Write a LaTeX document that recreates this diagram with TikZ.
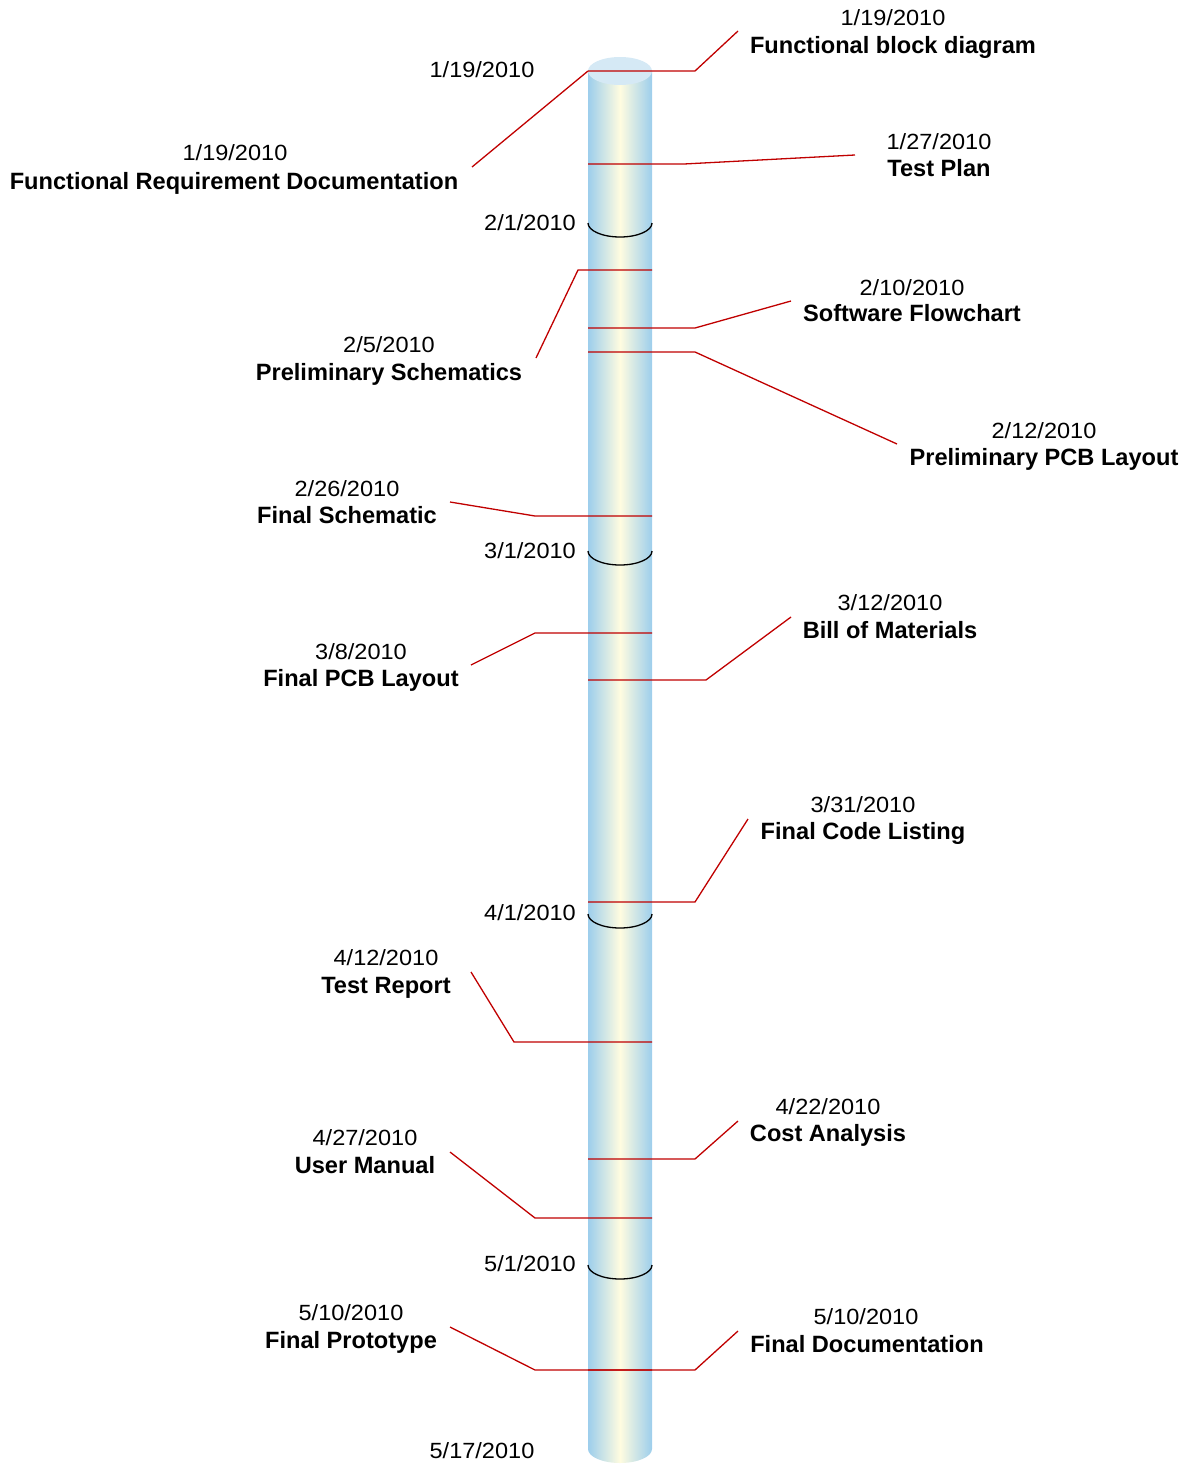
\documentclass[tikz,border=0pt]{standalone}
\usepackage{fontspec}
\setmainfont{Liberation Sans}
\newfontfamily\datefont{Liberation Sans}[FakeStretch=1.07]
\definecolor{cylblue}{HTML}{9DCEEC}
\definecolor{cylcream}{HTML}{FFFCE0}
\definecolor{cyltop}{HTML}{D5E9F5}
\definecolor{lred}{HTML}{C00000}
\tikzset{
  conn/.style={draw=lred, line width=1.3pt, line join=miter},
  datelab/.style={anchor=base, inner sep=0pt, font=\datefont\fontsize{22}{26}\selectfont},
  titlelab/.style={anchor=base, inner sep=0pt, font=\fontsize{23.6}{27}\selectfont\bfseries},
  axislab/.style={anchor=base east, inner sep=0pt, font=\datefont\fontsize{22}{26}\selectfont},
  monthmark/.style={draw=black, line width=1.3pt}
}
\begin{document}
\begin{tikzpicture}[x=1pt,y=-1pt]
\useasboundingbox (0,0) rectangle (1189,1465);
% cylinder
\shade[left color=cylblue, right color=cylblue, middle color=cylcream]
  (588,71) -- (588,1449) arc[start angle=180, end angle=360, x radius=32pt, y radius=14pt] -- (652,71) -- cycle;
\fill[cyltop] (620,71) ellipse[x radius=32pt, y radius=14pt];
% month marks
\draw[monthmark] (588,223) arc[start angle=180, end angle=360, x radius=32pt, y radius=14pt];
\draw[monthmark] (588,551) arc[start angle=180, end angle=360, x radius=32pt, y radius=14pt];
\draw[monthmark] (588,914) arc[start angle=180, end angle=360, x radius=32pt, y radius=14pt];
\draw[monthmark] (588,1265) arc[start angle=180, end angle=360, x radius=32pt, y radius=14pt];
% axis labels
\node[datelab, anchor=base] (start) at (482,77) {1/19/2010};
\node[axislab] (feb) at (576,230) {2/1/2010};
\node[axislab] (mar) at (576,558) {3/1/2010};
\node[axislab] (apr) at (576,920) {4/1/2010};
\node[axislab] (may) at (576,1271) {5/1/2010};
\node[datelab, anchor=base] (end) at (482,1458) {5/17/2010};
% labels
\node[datelab] (fbd-d) at (893,25) {1/19/2010};
\node[titlelab] (fbd-t) at (893,53) {Functional block diagram};
\node[datelab] (frd-d) at (235,160) {1/19/2010};
\node[titlelab] (frd-t) at (234,189) {Functional Requirement Documentation};
\node[datelab] (tp-d) at (939,149) {1/27/2010};
\node[titlelab] (tp-t) at (939,176) {Test Plan};
\node[datelab] (sf-d) at (912,295) {2/10/2010};
\node[titlelab] (sf-t) at (912,321) {Software Flowchart};
\node[datelab] (ps-d) at (389,352) {2/5/2010};
\node[titlelab] (ps-t) at (389,380) {Preliminary Schematics};
\node[datelab] (pp-d) at (1044,438) {2/12/2010};
\node[titlelab] (pp-t) at (1044,465) {Preliminary PCB Layout};
\node[datelab] (fs-d) at (347,496) {2/26/2010};
\node[titlelab] (fs-t) at (347,523) {Final Schematic};
\node[datelab] (bom-d) at (890,610) {3/12/2010};
\node[titlelab] (bom-t) at (890,638) {Bill of Materials};
\node[datelab] (fp-d) at (361,659) {3/8/2010};
\node[titlelab] (fp-t) at (361,686) {Final PCB Layout};
\node[datelab] (fcl-d) at (863,812) {3/31/2010};
\node[titlelab] (fcl-t) at (863,839) {Final Code Listing};
\node[datelab] (tr-d) at (386,965) {4/12/2010};
\node[titlelab] (tr-t) at (386,993) {Test Report};
\node[datelab] (ca-d) at (828,1114) {4/22/2010};
\node[titlelab] (ca-t) at (828,1141) {Cost Analysis};
\node[datelab] (um-d) at (365,1145) {4/27/2010};
\node[titlelab] (um-t) at (365,1173) {User Manual};
\node[datelab] (fpr-d) at (351,1320) {5/10/2010};
\node[titlelab] (fpr-t) at (351,1348) {Final Prototype};
\node[datelab] (fdoc-d) at (866,1324) {5/10/2010};
\node[titlelab] (fdoc-t) at (867,1352) {Final Documentation};
% connector points
\coordinate (fbd-a) at (588,71);  \coordinate (fbd-b) at (695,71);  \coordinate (fbd-c) at (738,31);
\coordinate (frd-a) at (588,71);  \coordinate (frd-c) at (472,167);
\coordinate (tp-a) at (588,164);  \coordinate (tp-b) at (684,164);  \coordinate (tp-c) at (855,155);
\coordinate (ps-a) at (652,270);  \coordinate (ps-b) at (578,270);  \coordinate (ps-c) at (536,358);
\coordinate (sf-a) at (588,328);  \coordinate (sf-b) at (695,328);  \coordinate (sf-c) at (791,301);
\coordinate (pp-a) at (588,352);  \coordinate (pp-b) at (695,352);  \coordinate (pp-c) at (897,444);
\coordinate (fs-a) at (652,516);  \coordinate (fs-b) at (535,516);  \coordinate (fs-c) at (450,502);
\coordinate (fp-a) at (652,633);  \coordinate (fp-b) at (535,633);  \coordinate (fp-c) at (471,665);
\coordinate (bom-a) at (588,680); \coordinate (bom-b) at (706,680); \coordinate (bom-c) at (791,617);
\coordinate (fcl-a) at (588,902); \coordinate (fcl-b) at (695,902); \coordinate (fcl-c) at (748,819);
\coordinate (tr-a) at (652,1042); \coordinate (tr-b) at (514,1042); \coordinate (tr-c) at (471,972);
\coordinate (ca-a) at (588,1159); \coordinate (ca-b) at (695,1159); \coordinate (ca-c) at (738,1121);
\coordinate (um-a) at (652,1218); \coordinate (um-b) at (535,1218); \coordinate (um-c) at (450,1152);
\coordinate (fpr-a) at (652,1370); \coordinate (fpr-b) at (535,1370); \coordinate (fpr-c) at (450,1327);
\coordinate (fdoc-a) at (588,1370); \coordinate (fdoc-b) at (695,1370); \coordinate (fdoc-c) at (738,1331);
% connectors
\draw[conn] (fbd-a) -- (fbd-b) -- (fbd-c);
\draw[conn] (frd-a) -- (frd-c);
\draw[conn] (tp-a) -- (tp-b) -- (tp-c);
\draw[conn] (ps-a) -- (ps-b) -- (ps-c);
\draw[conn] (sf-a) -- (sf-b) -- (sf-c);
\draw[conn] (pp-a) -- (pp-b) -- (pp-c);
\draw[conn] (fs-a) -- (fs-b) -- (fs-c);
\draw[conn] (fp-a) -- (fp-b) -- (fp-c);
\draw[conn] (bom-a) -- (bom-b) -- (bom-c);
\draw[conn] (fcl-a) -- (fcl-b) -- (fcl-c);
\draw[conn] (tr-a) -- (tr-b) -- (tr-c);
\draw[conn] (ca-a) -- (ca-b) -- (ca-c);
\draw[conn] (um-a) -- (um-b) -- (um-c);
\draw[conn] (fpr-a) -- (fpr-b) -- (fpr-c);
\draw[conn] (fdoc-a) -- (fdoc-b) -- (fdoc-c);
\end{tikzpicture}
\end{document}
